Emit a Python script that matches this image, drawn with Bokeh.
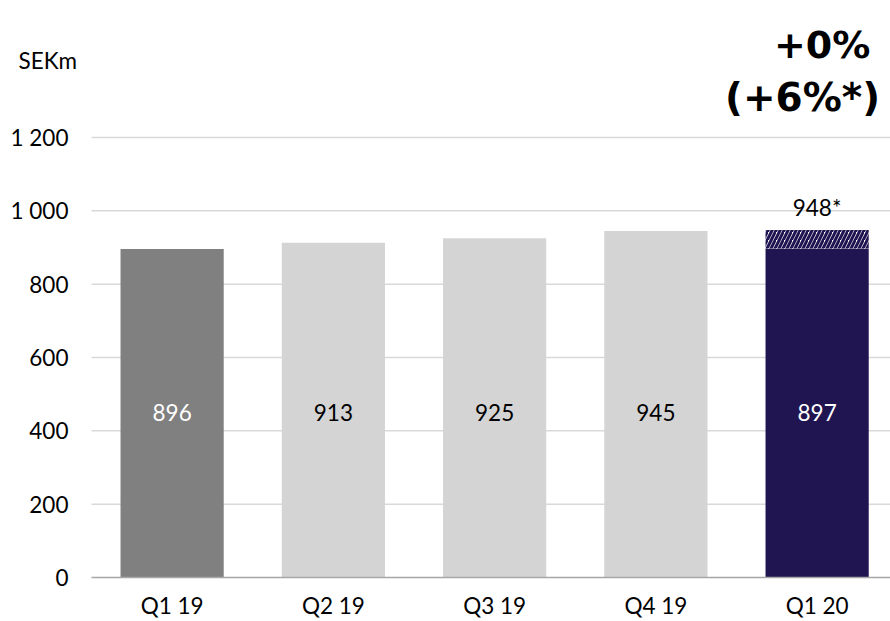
from bokeh.plotting import figure
from bokeh.models import Range1d, FixedTicker, Label, ColumnDataSource
from bokeh.core.properties import value
from bokeh.embed import file_html
from bokeh.resources import INLINE

quarters = ["Q1 19", "Q2 19", "Q3 19", "Q4 19", "Q1 20"]
sales = [896, 913, 925, 945, 897]
bar_colors = ["#808080", "#d4d4d4", "#d4d4d4", "#d4d4d4", "#211551"]
label_colors = ["white", "black", "black", "black", "white"]
adjusted_value = 948
yticks = [0, 200, 400, 600, 800, 1000, 1200]
ytick_labels = ["0", "200", "400", "600", "800", "1 000", "1 200"]

FONT = "Lato"
FS = "22.5px"
BIG = "DejaVu Sans"

xs = [i + 0.5 for i in range(len(quarters))]
X0, X1 = -0.5643, 4.955          # visible x extent (plot area starts at data x = 0)
Y0, Y1 = -35.5, 1573.6
LABEL_X = -0.143                 # right edge of y tick labels

p = figure(width=890, height=621, x_range=Range1d(X0, X1), y_range=Range1d(Y0, Y1),
           output_backend="svg", toolbar_location=None, y_axis_location=None,
           min_border_left=0, min_border_right=0, min_border_top=0, min_border_bottom=31)
p.outline_line_color = None
p.background_fill_color = "white"
p.border_fill_color = "white"
p.grid.visible = False

# horizontal gridlines (from 200 up)
p.segment(x0=[0] * (len(yticks) - 1), x1=[X1] * (len(yticks) - 1), y0=yticks[1:], y1=yticks[1:],
          line_color="#d9d9d9", line_width=1.5)

src = ColumnDataSource(dict(x=xs, top=sales, color=bar_colors, lc=label_colors,
                            ly=[450] * len(quarters), txt=[str(v) for v in sales]))
p.vbar(x="x", top="top", width=0.64, fill_color="color", line_color=None, source=src)

p.vbar(x=[xs[-1]], bottom=[sales[-1]], top=[adjusted_value], width=0.64,
       fill_color="white", line_color=None, hatch_pattern="/", hatch_color="#211551",
       hatch_scale=8, hatch_weight=3)

# baseline (x axis line)
p.segment(x0=[0], x1=[X1], y0=[yticks[0]], y1=[yticks[0]], line_color="#a6a6a6", line_width=1.5)

p.text(x="x", y="ly", text="txt", text_color="lc", text_align="center", text_baseline="middle",
       text_font=value(FONT), text_font_size=FS, source=src)
p.text(x=[xs[-1]], y=[1008], text=[f"{adjusted_value}*"], text_align="center",
       text_baseline="middle", text_font=value(FONT), text_font_size=FS, text_color="black")

# y tick labels
p.text(x=[LABEL_X] * len(yticks), y=yticks, text=ytick_labels, text_align="right",
       text_baseline="middle", text_font=value(FONT), text_font_size=FS, text_color="black")

p.xaxis.ticker = FixedTicker(ticks=xs)
p.xaxis.major_label_overrides = {x: q for x, q in zip(xs, quarters)}
p.xaxis.axis_line_color = None
p.xaxis.major_tick_line_color = None
p.xaxis.minor_tick_line_color = None
p.xaxis.major_tick_out = 0
p.xaxis.major_tick_in = 0
p.xaxis.major_label_standoff = 1
p.xaxis.major_label_text_font = FONT
p.xaxis.major_label_text_font_size = FS
p.xaxis.major_label_text_color = "black"

p.add_layout(Label(x=-0.4527, y=1410, text="SEKm", text_font=FONT, text_font_size=FS,
                   text_baseline="middle", text_align="left", text_color="black"))
p.add_layout(Label(x=4.83, y=1451, text="+0%", text_font=BIG, text_font_size="38px",
                   text_font_style="bold", text_baseline="middle", text_align="right", text_color="black"))
p.add_layout(Label(x=4.89, y=1309, text="(+6%*)", text_font=BIG, text_font_size="39px",
                   text_font_style="bold", text_baseline="middle", text_align="right", text_color="black"))

open("out.html", "w").write(file_html(p, INLINE))
